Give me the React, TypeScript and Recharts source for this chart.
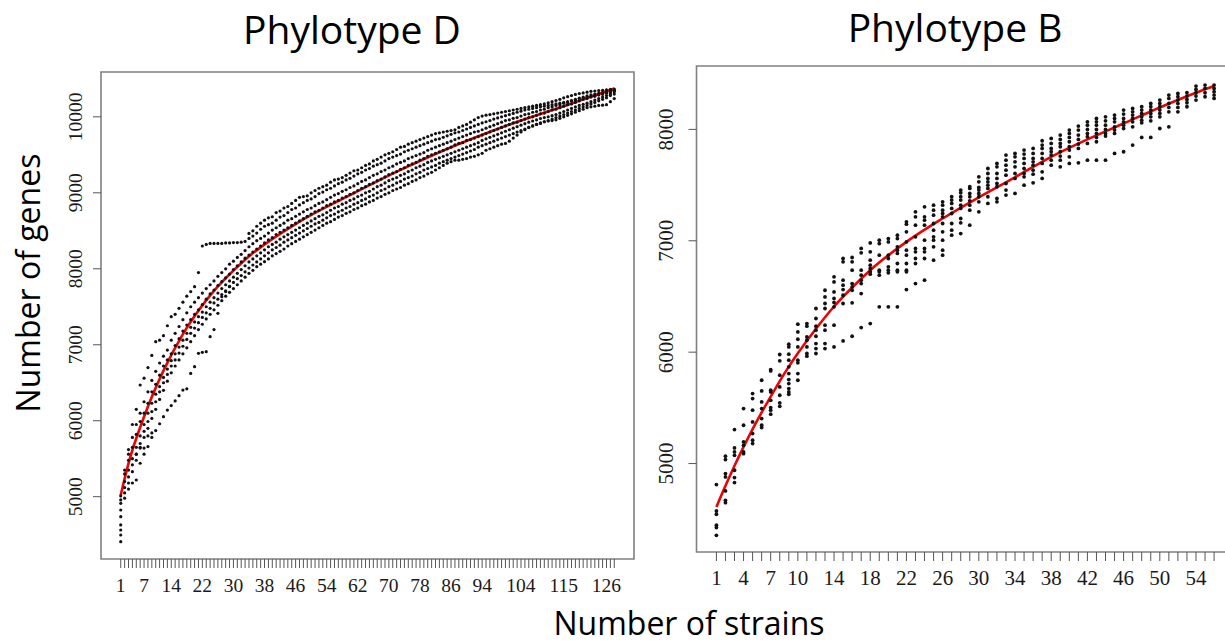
import { ComposedChart, Scatter, Line, XAxis, YAxis, ReferenceArea } from "recharts";

const FONT_LABEL = "'Open Sans', 'Noto Sans', sans-serif";
const FONT_TICK = "'Liberation Serif', 'Times New Roman', serif";
const DOT = "#111111";
const FIT_RED = "#f00000";
const FRAME = "#808080";
const TICK_GREY = "#555555";

// ── Phylotype D : 128 strains, permutation runs ──
const dStrains = 128;
const dXLabels = [1, 7, 14, 22, 30, 38, 46, 54, 62, 70, 78, 86, 94, 104, 115, 126];
const dYTicks = [5000, 6000, 7000, 8000, 9000, 10000];
const dYRange: [number, number] = [4180, 10590];

const dRunA = [
  4957, 5350, 5620, 5950, 6150, 6470, 6560, 6700, 6860, 7040,
  7060, 7120, 7250, 7369, 7400, 7480, 7560, 7640, 7700, 7764,
  7950, 8300, 8320, 8334, 8334, 8334, 8334, 8340, 8340, 8345,
  8345, 8350, 8360, 8465, 8500, 8560, 8600, 8640, 8670, 8685,
  8740, 8760, 8800, 8820, 8860, 8900, 8940, 8950, 8960, 9000,
  9030, 9060, 9080, 9100, 9140, 9170, 9180, 9200, 9230, 9260,
  9290, 9300, 9330, 9360, 9380, 9420, 9440, 9470, 9500, 9520,
  9540, 9570, 9600, 9610, 9640, 9660, 9680, 9700, 9720, 9740,
  9760, 9780, 9790, 9800, 9810, 9820, 9830, 9860, 9880, 9900,
  9930, 9960, 9990, 10010, 10022, 10030, 10040, 10050, 10060, 10070,
  10080, 10090, 10100, 10110, 10120, 10130, 10140, 10150, 10160, 10170,
  10185, 10200, 10215, 10230, 10250, 10265, 10280, 10295, 10307, 10315,
  10325, 10335, 10340, 10345, 10350, 10355, 10360, 10365,
];
// second upper stripe, visible from ~34 strains on
const dRunA2Start = 34;
const dRunA2 = [
  8400, 8430, 8470, 8520, 8560, 8580, 8600,
  8640, 8680, 8700, 8740, 8780, 8800, 8840, 8870, 8900, 8920,
  8950, 8990, 9010, 9040, 9060, 9090, 9120, 9140, 9170, 9190,
  9220, 9250, 9270, 9300, 9320, 9350, 9370, 9390, 9420, 9450,
  9470, 9490, 9510, 9540, 9560, 9580, 9600, 9620, 9640, 9660,
  9680, 9700, 9710, 9730, 9750, 9770, 9790, 9800, 9820, 9840,
  9860, 9880, 9900, 9920, 9935, 9950, 9970, 9985, 10000, 10015,
  10030, 10045, 10060, 10075, 10090, 10100, 10110, 10120, 10132, 10140,
  10150, 10160, 10170, 10180, 10190, 10200, 10215, 10230, 10245, 10260,
  10275, 10290, 10300, 10310, 10320, 10330, 10340, 10350,
];
const dRunB = [
  4913, 5300, 5560, 5780, 5950, 6100, 6250, 6380, 6530, 6650,
  6760, 6850, 6930, 7060, 7150, 7240, 7330, 7420, 7500, 7560,
  7620, 7680, 7740, 7790, 7840, 7900, 7950, 8000, 8060, 8100,
  8150, 8190, 8240, 8290, 8330, 8370, 8400, 8430, 8470, 8510,
  8540, 8570, 8600, 8640, 8660, 8690, 8720, 8750, 8780, 8800,
  8830, 8860, 8880, 8910, 8940, 8970, 8990, 9020, 9040, 9070,
  9090, 9120, 9150, 9170, 9200, 9230, 9250, 9280, 9300, 9330,
  9350, 9380, 9400, 9420, 9450, 9470, 9490, 9510, 9530, 9560,
  9580, 9600, 9620, 9640, 9660, 9680, 9700, 9720, 9740, 9760,
  9780, 9800, 9810, 9830, 9850, 9870, 9890, 9910, 9930, 9950,
  9960, 9980, 9990, 10010, 10030, 10040, 10060, 10070, 10090, 10100,
  10120, 10130, 10150, 10160, 10180, 10190, 10210, 10220, 10240, 10250,
  10260, 10270, 10280, 10290, 10300, 10310, 10320, 10340,
];
const dRunC = [
  4825, 5200, 5480, 5650, 5820, 5990, 6100, 6230, 6380, 6480,
  6600, 6720, 6800, 6880, 6990, 7080, 7180, 7260, 7330, 7400,
  7460, 7530, 7600, 7670, 7720, 7780, 7830, 7880, 7930, 7990,
  8040, 8090, 8140, 8180, 8220, 8260, 8300, 8340, 8380, 8410,
  8450, 8480, 8510, 8540, 8570, 8600, 8630, 8660, 8690, 8720,
  8750, 8770, 8800, 8830, 8850, 8880, 8900, 8930, 8950, 8980,
  9000, 9030, 9060, 9080, 9110, 9130, 9160, 9180, 9210, 9240,
  9260, 9280, 9310, 9330, 9360, 9380, 9400, 9430, 9450, 9480,
  9500, 9520, 9540, 9560, 9580, 9600, 9630, 9650, 9660, 9690,
  9700, 9720, 9740, 9760, 9780, 9800, 9820, 9840, 9860, 9880,
  9900, 9920, 9930, 9950, 9970, 9990, 10000, 10020, 10040, 10050,
  10070, 10090, 10100, 10120, 10140, 10160, 10170, 10190, 10210, 10230,
  10240, 10260, 10270, 10290, 10300, 10320, 10330, 10350,
];
const dRunD = [
  4737, 5120, 5350, 5500, 5650, 5800, 5950, 6100, 6230, 6350,
  6450, 6570, 6680, 6790, 6880, 6970, 7060, 7150, 7230, 7300,
  7370, 7430, 7500, 7560, 7620, 7680, 7740, 7790, 7840, 7890,
  7940, 7990, 8040, 8090, 8130, 8170, 8210, 8250, 8290, 8320,
  8350, 8390, 8420, 8450, 8480, 8510, 8540, 8570, 8600, 8630,
  8660, 8690, 8710, 8740, 8770, 8800, 8820, 8850, 8870, 8900,
  8920, 8950, 8970, 9000, 9020, 9050, 9080, 9100, 9130, 9160,
  9180, 9200, 9230, 9250, 9280, 9300, 9330, 9350, 9370, 9400,
  9420, 9440, 9460, 9480, 9500, 9520, 9540, 9560, 9580, 9600,
  9620, 9640, 9660, 9690, 9710, 9730, 9750, 9770, 9790, 9810,
  9830, 9850, 9870, 9890, 9910, 9930, 9945, 9960, 9978, 9990,
  10000, 10015, 10030, 10050, 10070, 10090, 10110, 10130, 10150, 10165,
  10180, 10200, 10220, 10240, 10260, 10280, 10300, 10330,
];
const dRunE = [
  4628, 5050, 5260, 5420, 5560, 5700, 5860, 5990, 6120, 6250,
  6380, 6500, 6610, 6720, 6800, 6890, 6980, 7070, 7150, 7220,
  7290, 7360, 7420, 7480, 7550, 7600, 7660, 7710, 7770, 7820,
  7870, 7910, 7960, 8010, 8050, 8090, 8130, 8170, 8210, 8250,
  8280, 8310, 8350, 8380, 8410, 8440, 8470, 8500, 8530, 8560,
  8590, 8610, 8640, 8670, 8700, 8720, 8750, 8770, 8800, 8820,
  8850, 8870, 8900, 8920, 8950, 8970, 9000, 9030, 9050, 9080,
  9100, 9130, 9150, 9180, 9200, 9220, 9250, 9270, 9300, 9320,
  9340, 9360, 9390, 9410, 9430, 9450, 9470, 9490, 9510, 9530,
  9550, 9570, 9600, 9620, 9640, 9660, 9680, 9700, 9720, 9740,
  9760, 9780, 9800, 9820, 9840, 9860, 9880, 9900, 9920, 9935,
  9950, 9970, 9990, 10010, 10030, 10050, 10070, 10090, 10110, 10132,
  10150, 10170, 10190, 10210, 10230, 10250, 10280, 10300,
];
const dRunF = [
  4562, 4980, 5180, 5330, 5480, 5640, 5780, 5900, 6030, 6150,
  6280, 6400, 6520, 6630, 6720, 6800, 6880, 6960, 7040, 7120,
  7200, 7270, 7340, 7400, 7460, 7520, 7580, 7640, 7690, 7740,
  7790, 7840, 7890, 7940, 7980, 8027, 8060, 8093, 8130, 8170,
  8200, 8230, 8260, 8300, 8330, 8360, 8390, 8420, 8450, 8480,
  8510, 8540, 8570, 8600, 8620, 8650, 8680, 8700, 8730, 8750,
  8780, 8800, 8830, 8850, 8880, 8900, 8930, 8950, 8980, 9000,
  9030, 9050, 9070, 9100, 9120, 9150, 9170, 9200, 9220, 9250,
  9270, 9300, 9330, 9360, 9390, 9410, 9430, 9430, 9440, 9450,
  9470, 9480, 9500, 9520, 9560, 9580, 9600, 9620, 9640, 9650,
  9680, 9720, 9760, 9800, 9830, 9860, 9880, 9900, 9913, 9935,
  9945, 9950, 9960, 9980, 10000, 10020, 10040, 10060, 10080, 10100,
  10120, 10132, 10140, 10150, 10154, 10160, 10200, 10240,
];
// the low run that trails below the band for the first ~30 strains
const dLowRunStart = 3;
const dLowRun = [
  5100, 5180, 5220, 5440, 5560, 5660, 5780, 5870, 5960, 6053,
  6140, 6200, 6260, 6330, 6404, 6420, 6623, 6711, 6887, 6900,
  6909, 7106, 7200, 7413, 7632, 7700, 7764,
];
const dExtra: [number, number][] = [
  [1, 5010], [1, 4496], [1, 4408],
  [5, 5560], [6, 5650], [7, 5640], [8, 5800], [9, 5840],
];
const dFitX = [1, 3, 7, 12, 17, 24, 33, 47, 60, 73, 86, 100, 117, 128];
const dFitY = [5022, 5439, 6053, 6660, 7140, 7650, 8120, 8620, 8970, 9302, 9600, 9880, 10176, 10373];

// ── Phylotype B : 56 strains, one list of dots per strain count ──
const bStrains = 56;
const bXLabels = [1, 4, 7, 10, 14, 18, 22, 26, 30, 34, 38, 42, 46, 50, 54];
const bYTicks = [5000, 6000, 7000, 8000];
const bYRange: [number, number] = [4206, 8569];

const bColumns: number[][] = [
  [4811, 4574, 4545, 4446, 4425, 4356],
  [5066, 5036, 4910, 4880, 4754, 4670, 4649],
  [5305, 5140, 5104, 5074, 4940, 4874, 4829],
  [5494, 5344, 5194, 5164, 5104, 5089],
  [5628, 5583, 5479, 5374, 5269, 5209, 5179],
  [5748, 5652, 5553, 5494, 5404, 5344, 5323],
  [5844, 5832, 5658, 5643, 5568, 5503, 5479, 5443],
  [5979, 5922, 5793, 5688, 5613, 5544, 5514],
  [6071, 6047, 5982, 5928, 5868, 5808, 5754, 5718, 5673, 5643, 5622],
  [6251, 6182, 6116, 6047, 5928, 5904, 5808, 5748],
  [6257, 6233, 6137, 6107, 6047, 5988, 5964],
  [6392, 6302, 6233, 6197, 6143, 6077, 6032, 5988],
  [6556, 6496, 6437, 6392, 6242, 6197, 6077, 6032],
  [6676, 6631, 6541, 6482, 6446, 6407, 6242, 6047],
  [6841, 6811, 6646, 6601, 6562, 6511, 6437, 6101],
  [6850, 6811, 6736, 6616, 6586, 6556, 6443, 6143],
  [6931, 6892, 6736, 6691, 6646, 6616, 6526, 6221],
  [6981, 6901, 6826, 6781, 6751, 6721, 6700, 6257],
  [7005, 6975, 6871, 6736, 6721, 6691, 6407],
  [7020, 6990, 6871, 6841, 6766, 6736, 6712, 6407],
  [7050, 7020, 6946, 6916, 6886, 6796, 6736, 6721, 6407],
  [7170, 7149, 7080, 6990, 6916, 6871, 6796, 6736, 6721, 6562],
  [7260, 7215, 7140, 7035, 6931, 6901, 6841, 6796, 6616],
  [7305, 7215, 7185, 7140, 7005, 6931, 6901, 6841, 6646],
  [7320, 7275, 7230, 7155, 7095, 7035, 7005, 6946, 6826],
  [7350, 7320, 7275, 7245, 7215, 7155, 7080, 7005, 6916, 6871],
  [7395, 7365, 7335, 7290, 7245, 7155, 7095, 7050],
  [7455, 7431, 7395, 7365, 7320, 7290, 7200, 7161, 7065],
  [7485, 7470, 7425, 7395, 7359, 7320, 7275, 7140],
  [7574, 7529, 7479, 7455, 7425, 7395, 7350, 7260],
  [7649, 7604, 7560, 7529, 7499, 7470, 7395, 7335],
  [7694, 7664, 7604, 7560, 7514, 7485, 7380, 7350],
  [7769, 7724, 7679, 7634, 7589, 7514, 7455, 7410],
  [7784, 7754, 7709, 7664, 7604, 7560, 7425],
  [7814, 7778, 7739, 7694, 7649, 7604, 7574, 7499],
  [7829, 7784, 7739, 7709, 7679, 7634, 7598, 7520],
  [7898, 7859, 7829, 7784, 7739, 7694, 7619, 7560],
  [7919, 7874, 7829, 7799, 7769, 7724, 7679],
  [7949, 7910, 7874, 7844, 7799, 7760, 7724, 7664],
  [7994, 7964, 7928, 7889, 7844, 7814, 7754, 7694],
  [8030, 7994, 7949, 7910, 7868, 7829, 7700],
  [8068, 8038, 8000, 7964, 7934, 7874, 7724],
  [8098, 8068, 8038, 8000, 7964, 7928, 7889, 7724],
  [8113, 8077, 8038, 8000, 7964, 7940, 7724],
  [8128, 8098, 8068, 8023, 7994, 7964, 7784],
  [8173, 8137, 8098, 8068, 8038, 8008, 7799],
  [8188, 8158, 8128, 8098, 8068, 8023, 7859],
  [8203, 8173, 8143, 8113, 8083, 8059, 7928],
  [8233, 8203, 8173, 8143, 8113, 8077, 7928],
  [8263, 8233, 8203, 8173, 8143, 8113, 8008],
  [8308, 8278, 8233, 8197, 8158, 8023],
  [8323, 8293, 8263, 8233, 8197, 8158],
  [8329, 8299, 8269, 8239, 8203],
  [8389, 8359, 8329, 8299, 8263],
  [8398, 8368, 8329, 8293],
  [8398, 8368, 8338, 8308, 8278],
];
const bFitX = [1, 2, 3, 4, 5, 6, 7, 8, 9, 10, 12, 14, 16, 18, 22, 26, 30, 34, 38, 42, 46, 50, 54, 56];
const bFitY = [4610, 4800, 4980, 5150, 5310, 5460, 5600, 5740, 5870, 5990, 6210, 6410, 6580, 6736, 6990, 7200, 7390, 7570, 7754, 7910, 8053, 8197, 8329, 8389];

type Pt = { x: number; y: number };

const toPts = (xs: number[], ys: number[]): Pt[] => xs.map((x, i) => ({ x, y: ys[i] }));

const dPoints: Pt[] = [
  ...[dRunA, dRunB, dRunC, dRunD, dRunE, dRunF].flatMap((run) => run.map((y, i) => ({ x: i + 1, y }))),
  ...dRunA2.map((y, i) => ({ x: dRunA2Start + i, y })),
  ...dLowRun.map((y, i) => ({ x: dLowRunStart + i, y })),
  ...dExtra.map(([x, y]) => ({ x, y })),
];
const bPoints: Pt[] = bColumns.flatMap((col, i) => col.map((y) => ({ x: i + 1, y })));

// R-style 4% padding around 1..n
const padDomain = (n: number): [number, number] => [1 - 0.04 * (n - 1), n + 0.04 * (n - 1)];

interface PanelProps {
  left: number;
  width: number;
  height: number;
  margin: { top: number; right: number; bottom: number; left: number };
  yAxisWidth: number;
  strains: number;
  yDomain: [number, number];
  xLabels: number[];
  yTicks: number[];
  points: Pt[];
  fit: Pt[];
  dotR: number;
  tickFont: number;
  xLabelDy: number;
  yLabelDx: number;
}

function Panel(p: PanelProps) {
  const xDomain = padDomain(p.strains);
  const allTicks = Array.from({ length: p.strains }, (_, i) => i + 1);

  const xTick = (props: any) => {
    const { x, y, payload } = props;
    if (!p.xLabels.includes(payload.value)) return <g />;
    return (
      <text
        x={x}
        y={y + p.xLabelDy}
        textAnchor="middle"
        dominantBaseline="central"
        fontFamily={FONT_TICK}
        fontSize={p.tickFont}
        fill="#1a1a1a"
      >
        {payload.value}
      </text>
    );
  };

  const yTick = (props: any) => {
    const { x, y, payload } = props;
    const tx = x + p.yLabelDx;
    return (
      <text
        x={tx}
        y={y}
        transform={`rotate(-90 ${tx} ${y})`}
        textAnchor="middle"
        dominantBaseline="central"
        fontFamily={FONT_TICK}
        fontSize={p.tickFont}
        fill="#1a1a1a"
      >
        {payload.value}
      </text>
    );
  };

  return (
    <div style={{ position: "absolute", left: p.left, top: 0 }}>
      <ComposedChart width={p.width} height={p.height} margin={p.margin}>
        <XAxis
          type="number"
          dataKey="x"
          domain={xDomain}
          allowDataOverflow
          ticks={allTicks}
          interval={0}
          tickSize={9}
          tickLine={{ stroke: TICK_GREY }}
          axisLine={false}
          tick={xTick}
          height={40}
        />
        <YAxis
          type="number"
          dataKey="y"
          domain={p.yDomain}
          allowDataOverflow
          ticks={p.yTicks}
          interval={0}
          tickSize={8}
          tickLine={{ stroke: TICK_GREY }}
          axisLine={false}
          tick={yTick}
          width={p.yAxisWidth}
        />
        <ReferenceArea
          x1={xDomain[0]}
          x2={xDomain[1]}
          y1={p.yDomain[0]}
          y2={p.yDomain[1]}
          fill="none"
          stroke={FRAME}
          strokeWidth={1.6}
          ifOverflow="visible"
        />
        <Scatter
          data={p.points}
          isAnimationActive={false}
          shape={(s: any) => <circle cx={s.cx} cy={s.cy} r={p.dotR} fill={DOT} />}
        />
        <Line
          data={p.fit}
          dataKey="y"
          type="monotone"
          stroke={FIT_RED}
          strokeWidth={2.6}
          dot={false}
          activeDot={false}
          isAnimationActive={false}
        />
      </ComposedChart>
    </div>
  );
}

export default function App() {
  return (
    <div
      style={{
        position: "absolute",
        left: 0,
        top: 0,
        width: 1225,
        height: 644,
        overflow: "hidden",
        background: "#ffffff",
      }}
    >
      <svg width={1225} height={644} style={{ position: "absolute", left: 0, top: 0 }}>
        <text x={352} y={44} textAnchor="middle" fontFamily={FONT_LABEL} fontSize={39} fill="#000">
          Phylotype D
        </text>
        <text x={955} y={42} textAnchor="middle" fontFamily={FONT_LABEL} fontSize={39} fill="#000">
          Phylotype B
        </text>
        <text
          x={40}
          y={283}
          transform="rotate(-90 40 283)"
          textAnchor="middle"
          fontFamily={FONT_LABEL}
          fontSize={32}
          fill="#000"
        >
          Number of genes
        </text>
        <text x={689} y={635} textAnchor="middle" fontFamily={FONT_LABEL} fontSize={32} fill="#000">
          Number of strains
        </text>
      </svg>

      <Panel
        left={0}
        width={640}
        height={610}
        margin={{ top: 72, right: 6, bottom: 11, left: 41 }}
        yAxisWidth={60}
        strains={dStrains}
        yDomain={dYRange}
        xLabels={dXLabels}
        yTicks={dYTicks}
        points={dPoints}
        fit={toPts(dFitX, dFitY)}
        dotR={1.6}
        tickFont={19.5}
        xLabelDy={15}
        yLabelDx={-15}
      />
      <Panel
        left={640}
        width={600}
        height={610}
        margin={{ top: 66, right: 6, bottom: 18, left: 16.5 }}
        yAxisWidth={40}
        strains={bStrains}
        yDomain={bYRange}
        xLabels={bXLabels}
        yTicks={bYTicks}
        points={bPoints}
        fit={toPts(bFitX, bFitY)}
        dotR={1.9}
        tickFont={21}
        xLabelDy={15}
        yLabelDx={-20}
      />
    </div>
  );
}
